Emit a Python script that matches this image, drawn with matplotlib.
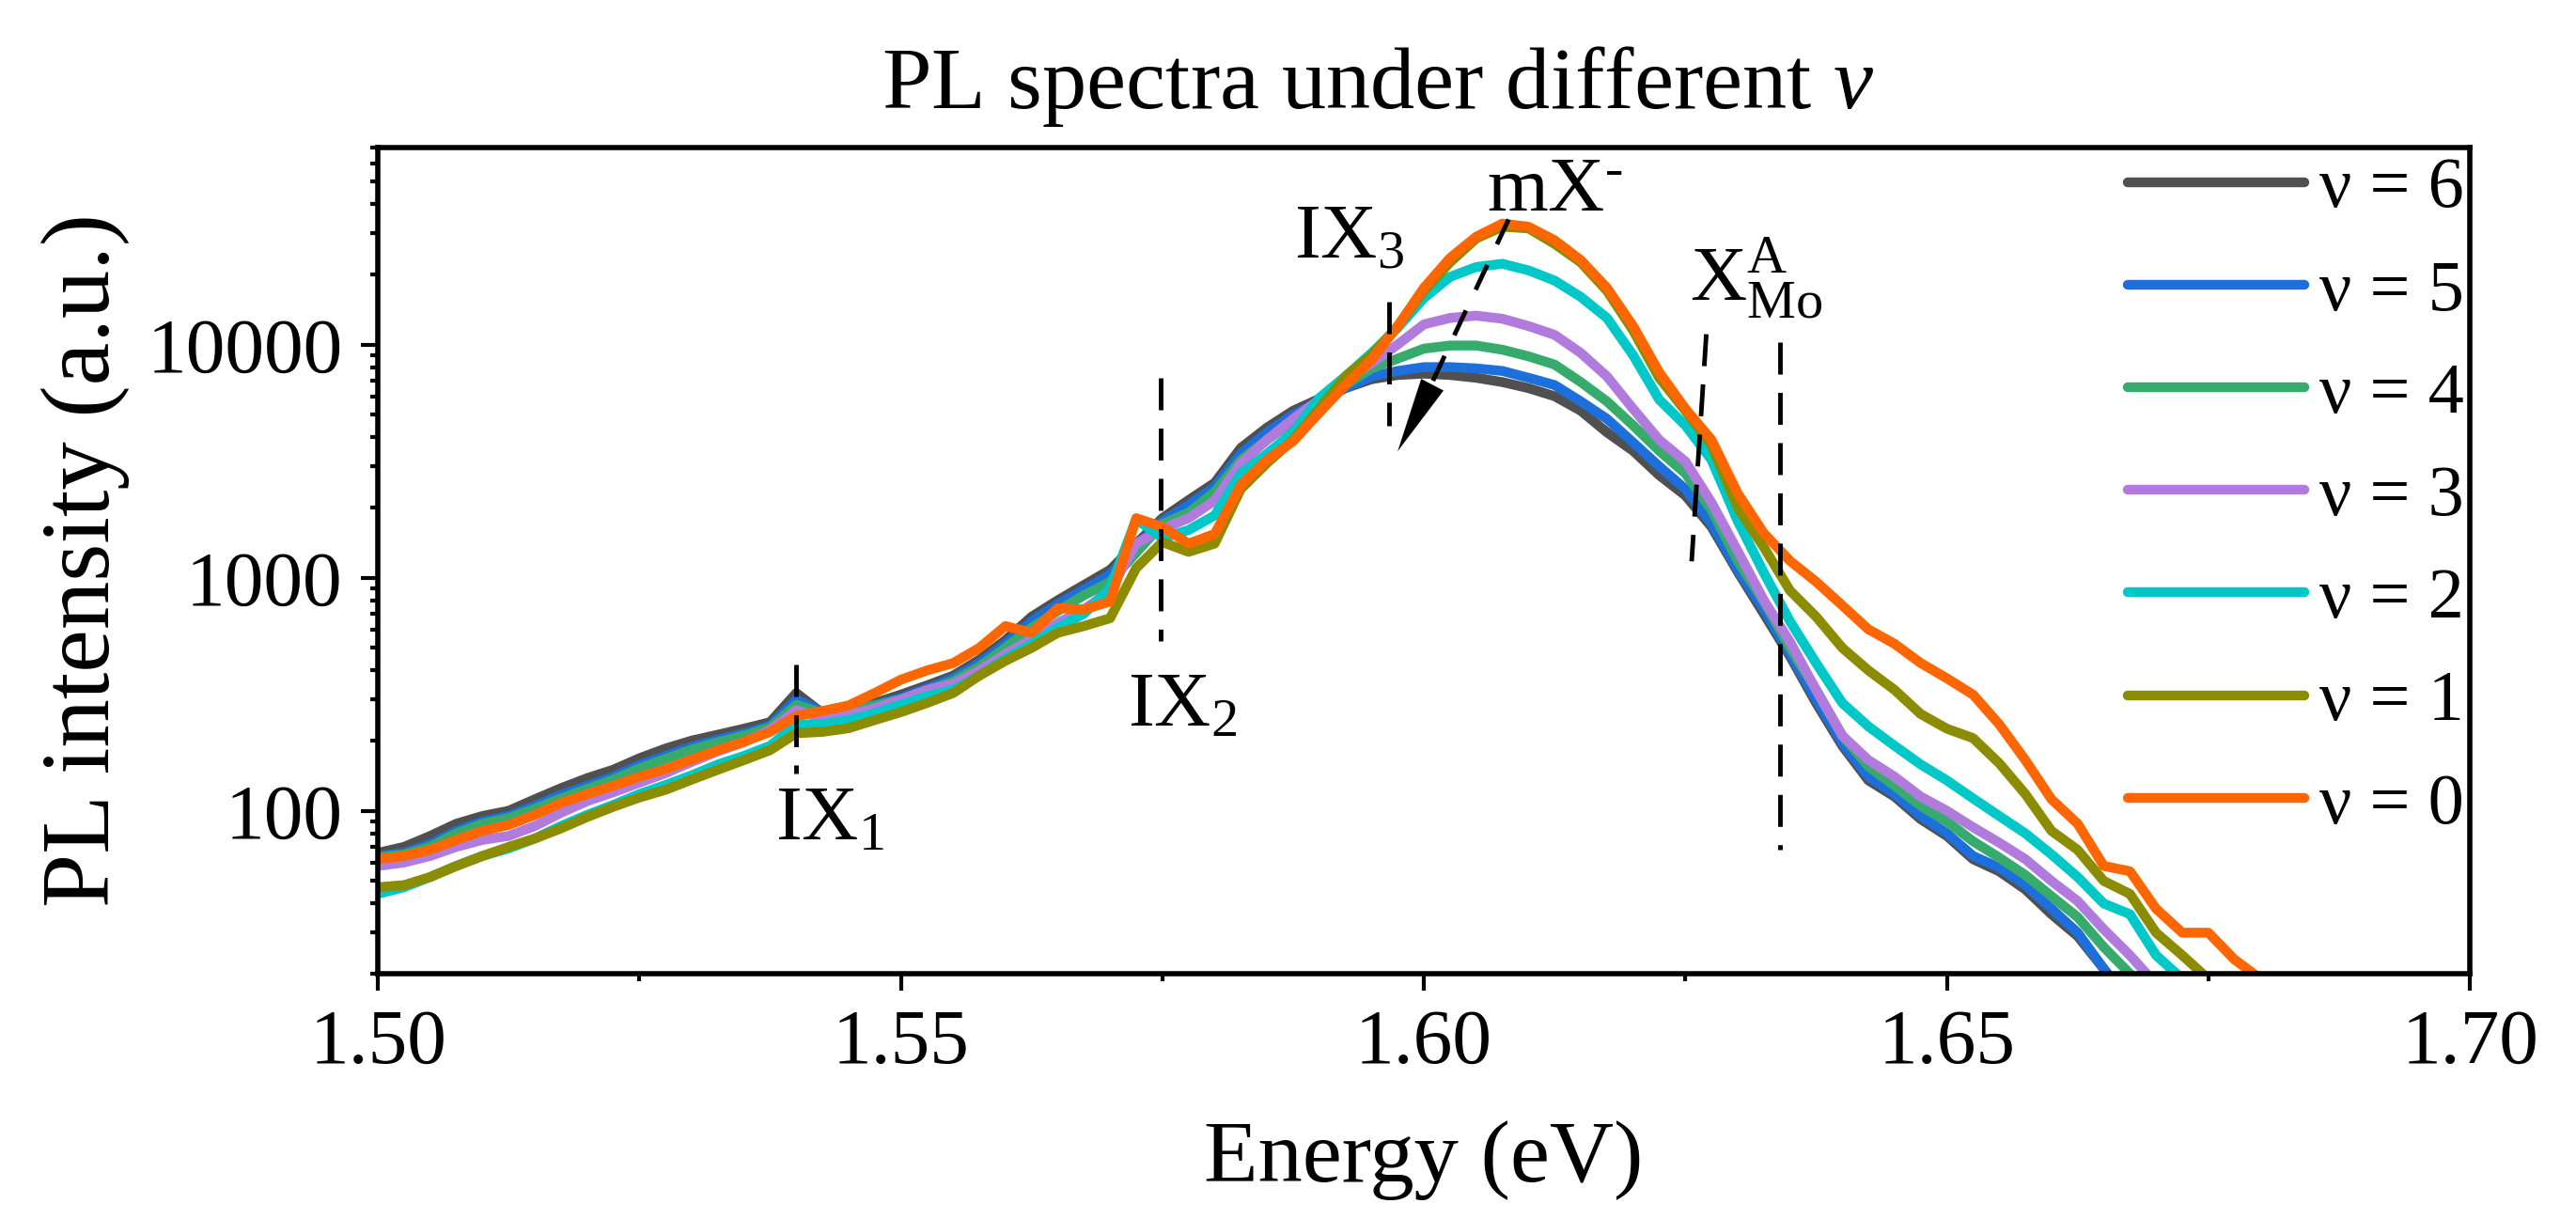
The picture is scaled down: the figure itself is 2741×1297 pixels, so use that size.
import numpy as np
import matplotlib
matplotlib.use('Agg')
import matplotlib.pyplot as plt
from matplotlib import ticker

plt.rcParams['font.family'] = 'Liberation Serif'
plt.rcParams['mathtext.fontset'] = 'custom'
plt.rcParams['mathtext.rm'] = 'Liberation Serif'
plt.rcParams['mathtext.it'] = 'Liberation Serif:italic'
plt.rcParams['mathtext.bf'] = 'Liberation Serif:bold'

# energy grid (eV), every 2.5 meV
energy = [1.5000, 1.5025, 1.5050, 1.5075, 1.5100, 1.5125, 1.5150, 1.5175, 1.5200, 1.5225,
          1.5250, 1.5275, 1.5300, 1.5325, 1.5350, 1.5375, 1.5400, 1.5425, 1.5450, 1.5475,
          1.5500, 1.5525, 1.5550, 1.5575, 1.5600, 1.5625, 1.5650, 1.5675, 1.5700, 1.5725,
          1.5750, 1.5775, 1.5800, 1.5825, 1.5850, 1.5875, 1.5900, 1.5925, 1.5950, 1.5975,
          1.6000, 1.6025, 1.6050, 1.6075, 1.6100, 1.6125, 1.6150, 1.6175, 1.6200, 1.6225,
          1.6250, 1.6275, 1.6300, 1.6325, 1.6350, 1.6375, 1.6400, 1.6425, 1.6450, 1.6475,
          1.6500, 1.6525, 1.6550, 1.6575, 1.6600, 1.6625, 1.6650, 1.6675, 1.6700, 1.6725,
          1.6750, 1.6775, 1.6800]

pl_nu6 = [66, 70, 78, 88, 95, 100, 112, 125, 138, 150,
          168, 185, 200, 212, 225, 240, 320, 262, 272, 290,
          315, 345, 380, 445, 540, 680, 800, 930, 1080, 1400,
          1800, 2150, 2550, 3600, 4400, 5200, 5850, 6500, 7100, 7400,
          7500, 7400, 7200, 6900, 6500, 6000, 5200, 4200, 3500, 2750,
          2250, 1650, 1060, 700, 460, 290, 190, 135, 115, 92,
          78, 62, 55, 46, 36, 29, 21, 15, 12, 10,
          10, 10, 10]
pl_nu5 = [64, 66, 72, 82, 90, 95, 105, 117, 128, 140,
          157, 172, 188, 202, 215, 232, 300, 265, 272, 285,
          305, 335, 370, 430, 520, 650, 770, 890, 1030, 1370,
          1750, 2050, 2450, 3400, 4200, 5000, 5700, 6500, 7300, 7700,
          8000, 8000, 7900, 7700, 7200, 6700, 5700, 4800, 3800, 3000,
          2400, 1700, 1080, 730, 470, 300, 195, 140, 118, 95,
          80, 64, 57, 48, 38, 30, 21, 15, 12, 10,
          10, 10, 10]
pl_nu4 = [63, 65, 70, 80, 88, 93, 102, 113, 124, 136,
          152, 167, 183, 197, 210, 228, 285, 262, 270, 283,
          300, 328, 360, 415, 500, 610, 720, 840, 960, 1280,
          1700, 1900, 2330, 3200, 3900, 4700, 5600, 6700, 7900, 8700,
          9600, 9900, 9900, 9500, 8900, 8200, 6900, 5700, 4500, 3500,
          2800, 1950, 1180, 790, 500, 330, 210, 155, 128, 105,
          90, 74, 63, 53, 43, 35, 26, 20, 14, 10,
          10, 10, 10]
pl_nu3 = [58, 60, 64, 70, 75, 78, 86, 98, 110, 120,
          132, 145, 162, 180, 197, 222, 270, 250, 258, 275,
          300, 330, 350, 400, 470, 545, 640, 730, 880, 1400,
          1620, 1800, 2140, 3100, 3900, 4800, 5800, 7000, 8300, 10000,
          12200, 13000, 13300, 12900, 12000, 11000, 9200, 7300, 5300, 3900,
          3150, 2100, 1300, 800, 530, 330, 210, 165, 140, 115,
          100, 85, 73, 62, 50, 41, 31, 24, 18, 14,
          10, 10, 10]
pl_nu2 = [44, 47, 52, 58, 64, 69, 76, 86, 96, 106,
          118, 129, 142, 158, 172, 190, 235, 235, 245, 262,
          285, 310, 330, 380, 450, 520, 610, 700, 900, 1780,
          1480, 1600, 1850, 2800, 3400, 4200, 5900, 7300, 9200, 11800,
          15800, 19500, 21500, 22200, 20800, 18800, 16000, 13000, 9000, 5800,
          4500, 3200, 1750, 1050, 650, 430, 290, 230, 190, 158,
          135, 113, 95, 80, 65, 52, 40, 36, 24, 19,
          14, 10, 10]
pl_nu1 = [47, 48, 52, 58, 64, 70, 76, 84, 94, 104,
          114, 123, 136, 150, 165, 182, 215, 218, 226, 245,
          265, 290, 320, 380, 440, 500, 580, 620, 670, 1100,
          1420, 1290, 1400, 2400, 3100, 3900, 5300, 7300, 9000, 12000,
          17000, 22500, 28500, 32000, 31500, 27000, 22500, 17000, 11500, 7200,
          5200, 3700, 2000, 1350, 880, 680, 500, 400, 330, 260,
          225, 205, 160, 118, 82, 68, 50, 44, 30, 24,
          19, 14, 10]
pl_nu0 = [62, 64, 68, 75, 82, 87, 96, 108, 118, 128,
          140, 151, 166, 182, 198, 218, 255, 268, 283, 320,
          365, 400, 430, 500, 620, 580, 740, 730, 790, 1800,
          1650, 1400, 1540, 2500, 3200, 3850, 5100, 6700, 8600, 12000,
          17500, 23500, 29000, 33000, 32000, 28000, 23000, 17500, 12000, 7600,
          5300, 3900, 2300, 1550, 1180, 960, 760, 600, 520, 430,
          370, 315, 235, 165, 112, 88, 58, 55, 38, 30,
          30, 23, 19]

series = [pl_nu6, pl_nu5, pl_nu4, pl_nu3, pl_nu2, pl_nu1, pl_nu0]
labels = ['ν = 6', 'ν = 5', 'ν = 4', 'ν = 3', 'ν = 2', 'ν = 1', 'ν = 0']
colors = ['#505050', '#1d6fdc', '#36ab6c', '#b07bdd', '#00c8c8', '#8c8c00', '#ff6600']

# peak markers: (E_top, I_top, E_bottom, I_bottom)
markers = [(1.5400, 425, 1.5400, 145),
           (1.5748, 7180, 1.5748, 535),
           (1.5967, 15300, 1.5967, 4480),
           (1.6270, 11070, 1.6256, 1175),
           (1.6340, 10200, 1.6340, 68)]
arrow_start = (1.6081, 34400)
arrow_base = (1.5996, 5290)
arrow_tip = (1.5975, 3490)

# peak names: (text, E_left, I_baseline)
names = [(r'$\mathrm{IX}_1$', 1.5380, 76),
         (r'$\mathrm{IX}_2$', 1.5717, 230),
         (r'$\mathrm{IX}_3$', 1.5876, 23600),
         (r'$\mathrm{mX}^{\text{-}}$', 1.6060, 37400),
         (r'$\mathrm{X}^{\mathrm{A}}_{\mathrm{Mo}}$', 1.6254, 15300)]

fig = plt.figure(figsize=(27.41, 12.97), dpi=100)
ax = fig.add_axes([0.1467, 0.2012, 0.8121, 0.6778])

for y, lab, c in zip(series, labels, colors):
    ax.plot(energy, y, color=c, lw=7.5, label=lab, solid_capstyle='round')

dash = (0, (7, 4))
for e0, i0, e1, i1 in markers:
    ax.plot([e0, e1], [i0, i1], color='k', lw=3.5, linestyle=dash)
ax.plot([arrow_start[0], arrow_base[0]], [arrow_start[1], arrow_base[1]],
        color='k', lw=3.5, linestyle=(0, (6, 5)))
ax.annotate('', xy=arrow_tip, xytext=arrow_base,
            arrowprops=dict(arrowstyle='-|>,head_length=1.9,head_width=0.32',
                            color='k', lw=0.1, mutation_scale=30, shrinkA=0, shrinkB=0))

for txt, e, i in names:
    ax.text(e, i, txt, fontsize=60, ha='left', va='baseline')

ax.set_yscale('log')
ax.set_xlim(1.50, 1.70)
ax.set_ylim(20, 70000)
ax.xaxis.set_major_locator(ticker.MultipleLocator(0.05))
ax.xaxis.set_minor_locator(ticker.MultipleLocator(0.025))
ax.xaxis.set_major_formatter(ticker.FormatStrFormatter('%.2f'))
ax.yaxis.set_major_locator(ticker.LogLocator(base=10))
ax.yaxis.set_minor_locator(ticker.LogLocator(base=10, subs=np.arange(2, 10)))
ax.yaxis.set_major_formatter(ticker.FuncFormatter(lambda v, p: '%d' % v))
ax.yaxis.set_minor_formatter(ticker.NullFormatter())

ax.tick_params(which='both', direction='out', top=False, right=False, labelsize=60, pad=14)
ax.tick_params(which='major', length=13, width=3)
ax.tick_params(which='minor', length=6, width=3)
for s in ax.spines.values():
    s.set_linewidth(4)

ax.set_xlabel('Energy (eV)', fontsize=68)
ax.xaxis.set_label_coords(0.5, -0.1775)
ax.set_ylabel('PL intensity (a.u.)', fontsize=74)
ax.yaxis.set_label_coords(-0.1186, 0.5)
ax.set_title(r'PL spectra under different $\nu$', fontsize=68, pad=30, x=0.478)

ax.legend(loc='upper right', bbox_to_anchor=(0.9973, 0.9886), frameon=False,
          fontsize=55, handlelength=2.46, handletextpad=0.21, labelspacing=0.52,
          borderpad=0, borderaxespad=0)

fig.savefig('out.png', dpi=100)
